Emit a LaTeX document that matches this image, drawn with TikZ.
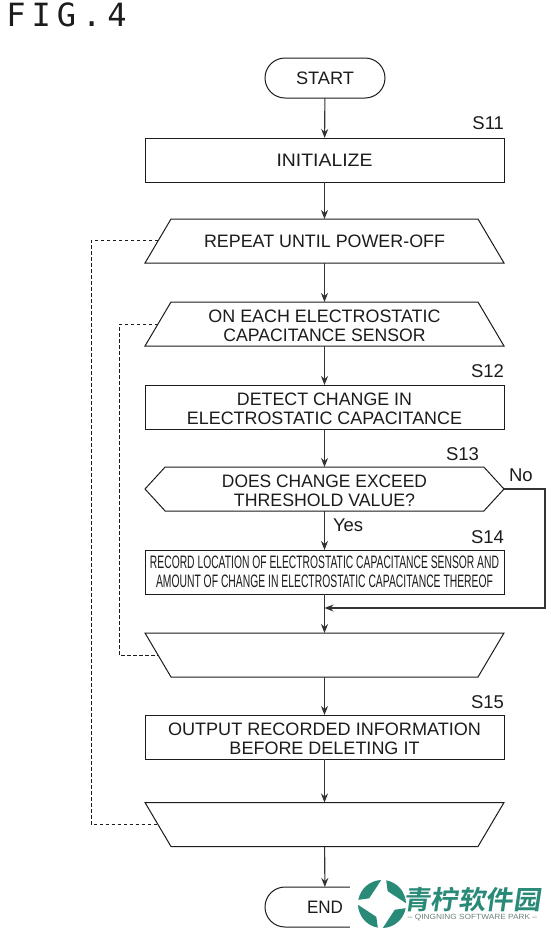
\documentclass[tikz,border=0pt]{standalone}
\usepackage{fontspec}
\usepackage{graphicx}
\setmainfont{Liberation Sans}
\newfontfamily\monof[LetterSpace=18.75]{DejaVu Sans Mono}
\newfontfamily\cjkf{Noto Sans CJK SC}[BoldFont={* Bold}]
\usetikzlibrary{shapes.symbols,arrows.meta,calc}
\definecolor{ink}{HTML}{1C1C1C}
\definecolor{logoteal}{HTML}{2A8A78}
\newcommand{\fw}[2]{\resizebox{#1pt}{\height}{#2}}
\newcommand{\lift}{\rule{0pt}{16pt}}
\newcommand{\headpoly}[1]{\draw[shapeline] ($(#1.north west)+(26,0)$) -- ($(#1.north east)+(-26,0)$) -- (#1.south east) -- (#1.south west) -- cycle;}
\newcommand{\tailpoly}[1]{\draw[shapeline] (#1.north west) -- (#1.north east) -- ($(#1.south east)+(-26,0)$) -- ($(#1.south west)+(26,0)$) -- cycle;}
\tikzset{
  x=1pt,y=-1pt,
  every node/.style={inner sep=0pt,outer sep=0pt,text=ink,font=\fontsize{18}{19}\selectfont,align=center},
  shapeline/.style={draw=ink,line width=1pt,line join=miter},
  flowbox/.style={shapeline,rectangle,minimum width=359pt,minimum height=44pt},
  terminal/.style={shapeline,rectangle,rounded corners=20pt,minimum width=120pt,minimum height=40pt},
  loopbase/.style={rectangle,minimum width=359pt,minimum height=44pt},
  hexa/.style={shapeline,signal,signal from=nowhere,signal to=west and east,signal pointer angle=95,minimum width=359pt,minimum height=44pt},
  flow/.style={draw=ink!90,line width=1.1pt,-{Stealth[length=9pt,width=7pt]}},
  loopline/.style={draw=ink,line width=0.8pt,dash pattern=on 3.5pt off 2.5pt},
  steplabel/.style={font=\fontsize{18.5}{20}\selectfont}
}
\begin{document}
\begin{tikzpicture}
\useasboundingbox (0,0) rectangle (550,930);
\fill[white] (0,0) rectangle (550,930);
\node[font=\monof\fontsize{32}{34}\selectfont,anchor=west] (fig) at (6.4,15) {FIG.4};

\node[terminal] (start) at (325,78) {\fw{58}{START}};
\node[flowbox] (init) at (324.5,160) {\fw{96}{INITIALIZE}};
\node[loopbase] (rep) at (324.5,241) {\fw{241}{REPEAT UNTIL POWER-OFF}};
\headpoly{rep}
\node[loopbase] (each) at (324.5,324) {\lift\fw{232}{ON EACH ELECTROSTATIC}\\\fw{202}{CAPACITANCE SENSOR}};
\headpoly{each}
\node[flowbox] (detect) at (324.5,407) {\lift\fw{175}{DETECT CHANGE IN}\\\fw{275}{ELECTROSTATIC CAPACITANCE}};
\node[hexa] (does) at (324.5,489) {\lift\fw{205}{DOES CHANGE EXCEED}\\\fw{181}{THRESHOLD VALUE?}};
\node[flowbox] (rec) at (324.5,572) {\fw{349}{RECORD LOCATION OF ELECTROSTATIC CAPACITANCE SENSOR AND}\\\fw{337}{AMOUNT OF CHANGE IN ELECTROSTATIC CAPACITANCE THEREOF}};
\node[loopbase] (endeach) at (324.5,655) {};
\tailpoly{endeach}
\node[flowbox] (out) at (324.5,737) {\lift\fw{313}{OUTPUT RECORDED INFORMATION}\\\fw{190}{BEFORE DELETING IT}};
\node[loopbase] (endrep) at (324.5,824.5) {};
\tailpoly{endrep}
\node[terminal] (end) at (325,907) {};
\node (endtxt) at (325,907) {\fw{36}{END}};

\node[steplabel,anchor=east] (s11) at (504,123) {S11};
\node[steplabel,anchor=east] (s12) at (504,371) {S12};
\node[steplabel,anchor=east] (s13) at (479,454) {S13};
\node[steplabel,anchor=east] (s14) at (504,537) {S14};
\node[steplabel,anchor=east] (s15) at (504,702) {S15};
\node[steplabel,anchor=west] (no) at (509,475) {No};
\node[steplabel,anchor=west] (yes) at (333,525) {Yes};

\draw[flow] (start) -- (init);
\draw[flow] (init) -- (rep);
\draw[flow] (rep) -- (each);
\draw[flow] (each) -- (detect);
\draw[flow] (detect) -- (does);
\draw[flow] (does) -- (rec);
\draw[flow] (rec) -- (endeach);
\draw[flow] (endeach) -- (out);
\draw[flow] (out) -- (endrep);
\draw[flow] (endrep) -- (end);

\coordinate (merge) at (rec.south |- 0,608);
\coordinate (nr) at (545,489);
\coordinate (nb) at (545,608);
\draw[flow] (does.east) -- (nr) -- (nb) -- (merge);

\coordinate (o1) at (91,240);
\coordinate (o2) at (91,824.5);
\coordinate (i1) at (119,324);
\coordinate (i2) at (119,655);
\draw[loopline] ($(rep.west)+(13,-1)$) -- (o1) -- (o2) -- ($(endrep.west)+(13,0)$);
\draw[loopline] ($(each.west)+(13,0)$) -- (i1) -- (i2) -- ($(endeach.west)+(13,0)$);

% watermark
\fill[white] (350,878) rectangle (550,930);
\foreach \a in {10,100,190,280}{
  \fill[logoteal] ($(382,904)+(\a:24)$) arc[start angle=\a,end angle=\a+78,radius=24] -- ($(382,904)+(\a+14:14)$) -- cycle;
}
\node[text=logoteal,anchor=west,font=\cjkf\bfseries\fontsize{26}{26}\selectfont,xslant=0.15] (lg) at (405,900) {\fw{137}{青柠软件园}};
\node[text=gray!80!logoteal,anchor=center,font=\fontsize{7.5}{8}\selectfont] (lg2) at (472.5,918) {\fw{129}{– QINGNING SOFTWARE PARK –}};
\end{tikzpicture}
\end{document}
